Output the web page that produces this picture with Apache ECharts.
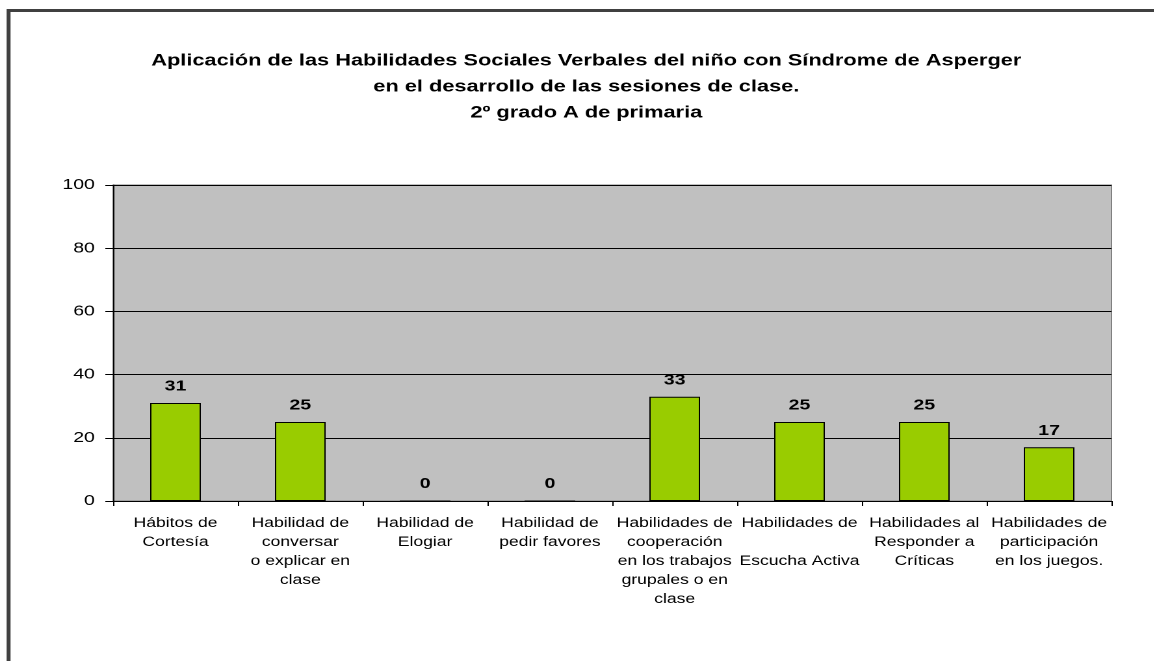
<!DOCTYPE html>
<html>
<head>
<meta charset="utf-8">
<title>Habilidades Sociales Verbales</title>
<script src="https://cdn.jsdelivr.net/npm/echarts@6/dist/echarts.min.js"></script>
<style>
  html, body { margin: 0; padding: 0; background: #ffffff; overflow: hidden; }
  /* The chart is laid out in a narrower box and stretched horizontally,
     giving the wide-lettered look of the printed figure. */
  #chart {
    width: 888.46px;
    height: 661px;
    transform: scaleX(1.3);
    transform-origin: 0 0;
  }
</style>
</head>
<body>
<div id="chart"></div>
<script>
// Skill categories (line breaks follow the printed axis labels)
const categories = [
  'Hábitos de\nCortesía',
  'Habilidad de\nconversar\no explicar en\nclase',
  'Habilidad de\nElogiar',
  'Habilidad de\npedir favores',
  'Habilidades de\ncooperación\nen los trabajos\ngrupales o en\nclase',
  'Habilidades de\n\nEscucha Activa',
  'Habilidades al\nResponder a\nCríticas',
  'Habilidades de\nparticipación\nen los juegos.'
];

// Percentage of application per skill
const values = [31, 25, 0, 0, 33, 25, 25, 17];

// Value axis ticks
const yMin = 0;
const yMax = 100;
const yStep = 20;

const titleLines = [
  'Aplicación de las Habilidades Sociales Verbales del niño con Síndrome de Asperger',
  'en el desarrollo de las sesiones de clase.',
  '2º grado A de primaria'
];

const FONT = '"Liberation Sans", Arial, sans-serif';

const chart = echarts.init(document.getElementById('chart'), null, {
  renderer: 'canvas',
  devicePixelRatio: 2
});

chart.setOption({
  backgroundColor: '#ffffff',
  animation: false,
  title: {
    text: titleLines.join('\n'),
    left: 446,
    top: 43,
    textAlign: 'center',
    textStyle: {
      fontFamily: FONT,
      fontSize: 16.75,
      fontWeight: 'bold',
      color: '#000000',
      lineHeight: 26
    }
  },
  graphic: [
    {
      type: 'rect',
      shape: { x: 6.6, y: 10.5, width: 1000, height: 700 },
      style: { fill: 'none', stroke: '#404040', lineWidth: 3 },
      silent: true,
      z: 10
    }
  ],
  grid: {
    left: 87,
    right: 33,
    top: 185,
    bottom: 160,
    show: true,
    backgroundColor: '#c0c0c0',
    borderColor: '#808080',
    borderWidth: 1
  },
  xAxis: {
    type: 'category',
    data: categories,
    axisLine: { show: true, lineStyle: { color: '#000000', width: 1 } },
    axisTick: { show: true, length: 5, alignWithLabel: false, lineStyle: { color: '#000000' } },
    axisLabel: {
      interval: 0,
      margin: 13,
      color: '#000000',
      fontFamily: FONT,
      fontSize: 13.5,
      lineHeight: 19,
      align: 'center'
    },
    splitLine: { show: false }
  },
  yAxis: {
    type: 'value',
    min: yMin,
    max: yMax,
    interval: yStep,
    axisLine: { show: true, lineStyle: { color: '#000000', width: 1 } },
    axisTick: { show: true, length: 6, inside: false, lineStyle: { color: '#000000' } },
    axisLabel: {
      margin: 14,
      color: '#000000',
      fontFamily: FONT,
      fontSize: 15
    },
    splitLine: { show: true, lineStyle: { color: '#000000', width: 1 } }
  },
  series: [
    {
      type: 'bar',
      data: values,
      barWidth: 39,
      itemStyle: {
        color: '#99cc00',
        borderColor: '#000000',
        borderWidth: 1
      },
      label: {
        show: true,
        position: 'top',
        distance: 9,
        color: '#000000',
        fontFamily: FONT,
        fontSize: 15,
        fontWeight: 'bold'
      }
    }
  ]
});
</script>
</body>
</html>
